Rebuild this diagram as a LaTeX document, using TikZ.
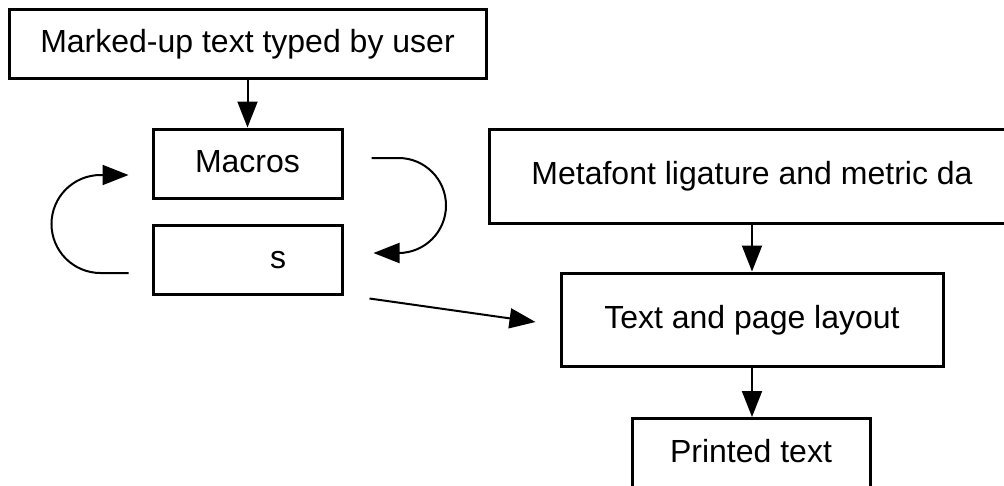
\documentclass[tikz,border=0pt]{standalone}
\usepackage{fontspec}
\setmainfont{Liberation Sans}
\usetikzlibrary{arrows.meta}

\begin{document}
\begin{tikzpicture}[x=1pt,y=-1pt,
    box/.style={draw,line width=3pt,inner sep=0pt,text height=23.5pt,text depth=6pt,
                font=\fontsize{32pt}{38pt}\selectfont},
    arr/.style={line width=2pt,-{Triangle[length=26pt,width=20pt]}}]
   \clip (0,0) rectangle (1004,485);
   \useasboundingbox (0,0) rectangle (1004,485);
   \node[box,minimum width=477pt,minimum height=69pt] (user) at (247.5,43.5) {Marked-up text typed by user};
   \node[box,minimum width=189pt,minimum height=69pt] (macros) at (247.5,163.5) {Macros};
   \node[box,minimum width=189pt,minimum height=69pt] (prims) at (247.5,259.5) {\hspace*{61pt}s};
   \node[box,minimum width=526pt,minimum height=94pt] (meta) at (752,176) {Metafont ligature and metric da};
   \node[box,minimum width=382pt,minimum height=93pt] (layout) at (752,319.5) {Text and page layout};
   \node[box,minimum width=238pt,inner ysep=20pt,text depth=40pt,anchor=north] (printed) at (751,417) {Printed text};

   \draw[arr] (user) -- (macros);
   \draw[arr] ([shift={(28pt,5.5pt)}]macros.east) -- ++(27pt,0) arc (90:-90:47.5pt)
      -- ([shift={(30pt,6.5pt)}]prims.east);
   \draw[arr] ([shift={(-23pt,-13.5pt)}]prims.west) -- ++(-28pt,0) arc (270:90:49pt)
      -- ([shift={(-23pt,-11.5pt)}]macros.west);
   \draw[arr] ([shift={(26pt,-3pt)}]prims.south east) -- ([shift={(-24pt,-2.5pt)}]layout.west);
   \draw[arr] (meta) -- (layout);
   \draw[arr] (layout.south) -- (layout.south |- printed.north);
\end{tikzpicture}
\end{document}
